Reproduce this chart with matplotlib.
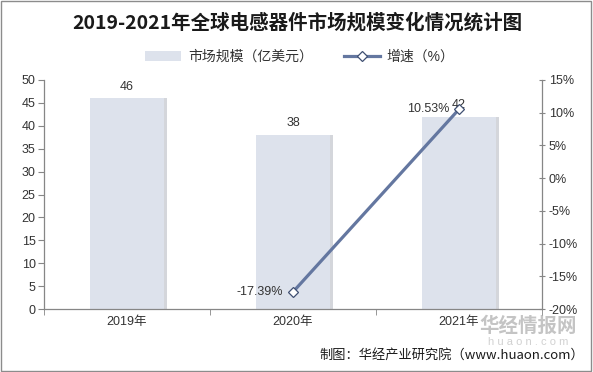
import matplotlib
matplotlib.use("Agg")
import matplotlib.pyplot as plt
from matplotlib.patches import Rectangle
import numpy as np

plt.rcParams['font.family'] = ['Liberation Sans', 'Noto Sans CJK SC', 'DejaVu Sans']

categories = ['2019年', '2020年', '2021年']
market_size = [46, 38, 42]
growth = [None, -17.39, 10.53]
left_ticks = [0, 5, 10, 15, 20, 25, 30, 35, 40, 45, 50]
right_ticks = [-20, -15, -10, -5, 0, 5, 10, 15]

title = '2019-2021年全球电感器件市场规模变化情况统计图'
bar_label = '市场规模（亿美元）'
line_label = '增速（%）'
source = '制图：华经产业研究院（www.huaon.com）'

bar_color = '#dde2ec'
line_color = '#6477a0'
axis_color = '#868686'
text_color = '#333333'

fig = plt.figure(figsize=(5.93, 3.72), dpi=100)
fig.patch.set_facecolor('white')
fig.add_artist(Rectangle((0.002, 0.003), 0.995, 0.993, transform=fig.transFigure,
                         fill=False, edgecolor='#8c8c8c', lw=1.0))

ax = fig.add_axes([44/593, 1-309/372, (542-44)/593, (309-80)/372])
x = np.arange(len(categories))
bw = 0.445
# shadow
ax.bar(x + 0.018, market_size, width=bw, color='#b8bcc4', alpha=0.6, zorder=1)
bars = ax.bar(x, market_size, width=bw, color=bar_color, zorder=2, label=bar_label)
ax.set_xlim(-0.5, len(categories) - 0.5)
ax.set_ylim(0, 50)
ax.set_yticks(left_ticks)
ax.set_yticklabels([str(v) for v in left_ticks], fontsize=9, color=text_color)
ax.set_xticks(x)
ax.set_xticklabels(categories, fontsize=9, color=text_color)
ax.tick_params(axis='x', length=0, pad=5)
ax.set_xticks(np.arange(-0.5, len(categories)), minor=True)
ax.tick_params(axis='x', which='minor', length=4, color=axis_color)
ax.tick_params(axis='y', length=4, color=axis_color, pad=2)
for s in ['top', 'right']:
    ax.spines[s].set_visible(False)
for s in ['left', 'bottom']:
    ax.spines[s].set_color(axis_color)
    ax.spines[s].set_linewidth(0.9)

for xi, v in zip(x, market_size):
    ax.annotate(str(v), (xi, v), xytext=(0, 4), textcoords='offset points',
                ha='center', va='bottom', fontsize=9, color=text_color, zorder=5)

ax2 = ax.twinx()
ax2.set_ylim(-20, 15)
ax2.set_yticks(right_ticks)
ax2.set_yticklabels([f'{v}%' for v in right_ticks], fontsize=9, color=text_color)
ax2.tick_params(axis='y', length=4, color=axis_color, pad=3, direction='inout')
for s in ['top', 'left', 'bottom']:
    ax2.spines[s].set_visible(False)
ax2.spines['right'].set_color(axis_color)
ax2.spines['right'].set_linewidth(0.9)

gx = [xi for xi, g in zip(x, growth) if g is not None]
gy = [g for g in growth if g is not None]
line, = ax2.plot(gx, gy, color=line_color, lw=2.3, marker='D', markersize=5.5,
                 markerfacecolor='white', markeredgecolor='#3f4f72', markeredgewidth=0.9,
                 zorder=4, label=line_label)
for xi, g in zip(gx, gy):
    ax2.annotate(f'{g:.2f}%', (xi, g), xytext=(-7, 0), textcoords='offset points',
                 ha='right', va='center', fontsize=9, color=text_color, zorder=5)

fig.text(297/593, 1-23/372, title, ha='center', va='center', fontsize=14,
         fontweight='bold', color='#1a1a1a', family=['Noto Sans CJK SC', 'DejaVu Sans'])

leg = fig.legend([bars, line], [bar_label, line_label], loc='center',
                 bbox_to_anchor=(300/593, 1-57/372), ncol=2, frameon=False,
                 fontsize=10, handlelength=2.6, columnspacing=2.2, handletextpad=0.5,
                 labelcolor=text_color)

# watermark
fig.text(528/593, 1-326/372, '华经情报网', ha='center', va='center', fontsize=14,
         fontweight='bold', color='#8a8a8a', alpha=0.5,
         family=['Noto Sans CJK SC', 'DejaVu Sans'], zorder=10)
fig.text(528/593, 1-342/372, 'h u a o n . c o m', ha='center', va='center', fontsize=8,
         color='#9a9a9a', alpha=0.45, zorder=10)

fig.text(584/593, 1-355/372, source, ha='right', va='center', fontsize=9.5,
         color='#1a1a1a', family=['Noto Sans CJK SC', 'DejaVu Sans'])

fig.savefig('out.png', dpi=100, facecolor='white')
